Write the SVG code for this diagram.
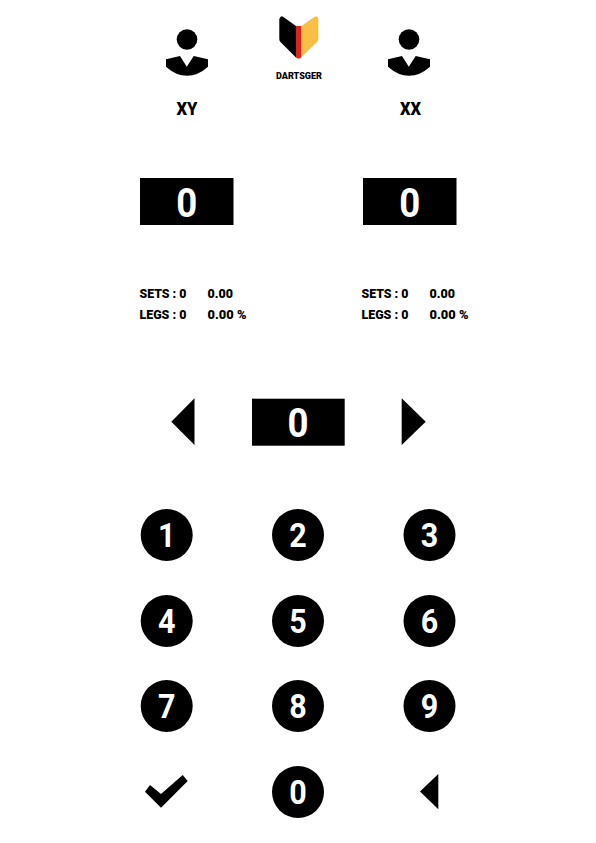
<svg xmlns="http://www.w3.org/2000/svg" width="596" height="843" viewBox="0 0 596 843">
<style>
text{font-family:Roboto,"Liberation Sans",sans-serif;font-weight:900;fill:#000}
.d{fill:#fff;text-anchor:middle;font-weight:700}
.k{font-size:34px}
.s{font-size:41px}
.t{font-size:13.5px}
.n{font-size:19px;text-anchor:middle}
</style>
<defs>
<g id="person"><circle cx="187" cy="39.5" r="10.3" fill="#000"/><path d="M166 59.3L180 56L186.8 66.7L193.7 56L208 59.3V66.7Q198 75.7 187 75.7Q176 75.7 166 66.7Z" fill="#000"/></g>
<circle id="key" r="26" fill="#000"/>
</defs>
<g id="logo">
<path d="M280.5 17Q281.5 15.7 283 16.8L296 26V57.5L280.5 42Q279.3 40.8 279.3 39V19Z" fill="#000"/>
<path d="M296 26H301.5V57Q299 60 296 57.5Z" fill="#d9251c"/>
<path d="M301.5 26L314.5 16.8Q317.8 15 318.3 19V39Q318.3 41 317 42L301.5 57Z" fill="#f9bf44"/>
<text x="299" y="79.2" font-size="9.6" text-anchor="middle" textLength="46" lengthAdjust="spacingAndGlyphs">DARTSGER</text>
</g>
<g id="player-left"><use href="#person"/><text class="n" x="187" y="115" textLength="21" lengthAdjust="spacingAndGlyphs">XY</text></g>
<g id="player-right"><use href="#person" x="222"/><text class="n" x="410.500" y="115" textLength="21" lengthAdjust="spacingAndGlyphs">XX</text></g>
<g id="score-left"><rect x="140" y="178" width="93.500" height="47" fill="#000"/><text class="d s" x="186.800" y="216.500" textLength="21" lengthAdjust="spacingAndGlyphs">0</text></g>
<g id="score-right"><rect x="363" y="178" width="93.500" height="47" fill="#000"/><text class="d s" x="409.800" y="216.500" textLength="21" lengthAdjust="spacingAndGlyphs">0</text></g>
<g id="stats-left">
<text class="t" x="139.500" y="298" textLength="47" lengthAdjust="spacingAndGlyphs">SETS : 0</text><text class="t" x="207.500" y="298" textLength="25.500" lengthAdjust="spacingAndGlyphs">0.00</text>
<text class="t" x="139.500" y="319" textLength="47" lengthAdjust="spacingAndGlyphs">LEGS : 0</text><text class="t" x="207.500" y="319" textLength="39" lengthAdjust="spacingAndGlyphs">0.00 %</text>
</g>
<g id="stats-right">
<text class="t" x="361.500" y="298" textLength="47" lengthAdjust="spacingAndGlyphs">SETS : 0</text><text class="t" x="429.500" y="298" textLength="25.500" lengthAdjust="spacingAndGlyphs">0.00</text>
<text class="t" x="361.500" y="319" textLength="47" lengthAdjust="spacingAndGlyphs">LEGS : 0</text><text class="t" x="429.500" y="319" textLength="39" lengthAdjust="spacingAndGlyphs">0.00 %</text>
</g>
<g id="prev"><path d="M171.300 421.700L194.500 398.300V445Z" fill="#000"/></g>
<g id="current"><rect x="252" y="398.700" width="92.700" height="47" fill="#000"/><text class="d s" x="298" y="437" textLength="21" lengthAdjust="spacingAndGlyphs">0</text></g>
<g id="next"><path d="M401.700 398.300L425.700 421.700L401.700 445Z" fill="#000"/></g>
<g id="key-1"><use href="#key" x="166.700" y="535"/><text class="d k" x="166.700" y="547" textLength="17.500" lengthAdjust="spacingAndGlyphs">1</text></g>
<g id="key-2"><use href="#key" x="298" y="535"/><text class="d k" x="298" y="547" textLength="17.500" lengthAdjust="spacingAndGlyphs">2</text></g>
<g id="key-3"><use href="#key" x="429.500" y="535"/><text class="d k" x="429.500" y="547" textLength="17.500" lengthAdjust="spacingAndGlyphs">3</text></g>
<g id="key-4"><use href="#key" x="166.700" y="621"/><text class="d k" x="166.700" y="633" textLength="17.500" lengthAdjust="spacingAndGlyphs">4</text></g>
<g id="key-5"><use href="#key" x="298" y="621"/><text class="d k" x="298" y="633" textLength="17.500" lengthAdjust="spacingAndGlyphs">5</text></g>
<g id="key-6"><use href="#key" x="429.500" y="621"/><text class="d k" x="429.500" y="633" textLength="17.500" lengthAdjust="spacingAndGlyphs">6</text></g>
<g id="key-7"><use href="#key" x="166.700" y="706"/><text class="d k" x="166.700" y="718" textLength="17.500" lengthAdjust="spacingAndGlyphs">7</text></g>
<g id="key-8"><use href="#key" x="298" y="706"/><text class="d k" x="298" y="718" textLength="17.500" lengthAdjust="spacingAndGlyphs">8</text></g>
<g id="key-9"><use href="#key" x="429.500" y="706"/><text class="d k" x="429.500" y="718" textLength="17.500" lengthAdjust="spacingAndGlyphs">9</text></g>
<g id="confirm"><path d="M145 791.700L150 785L161 794L182.700 775L187.700 781L161 807.700Z" fill="#000"/></g>
<g id="key-0"><use href="#key" x="298" y="792"/><text class="d k" x="298" y="804" textLength="17.500" lengthAdjust="spacingAndGlyphs">0</text></g>
<g id="back"><path d="M420 791.500L438.300 774V809.300Z" fill="#000"/></g>
<g id="connectors"/>
</svg>
